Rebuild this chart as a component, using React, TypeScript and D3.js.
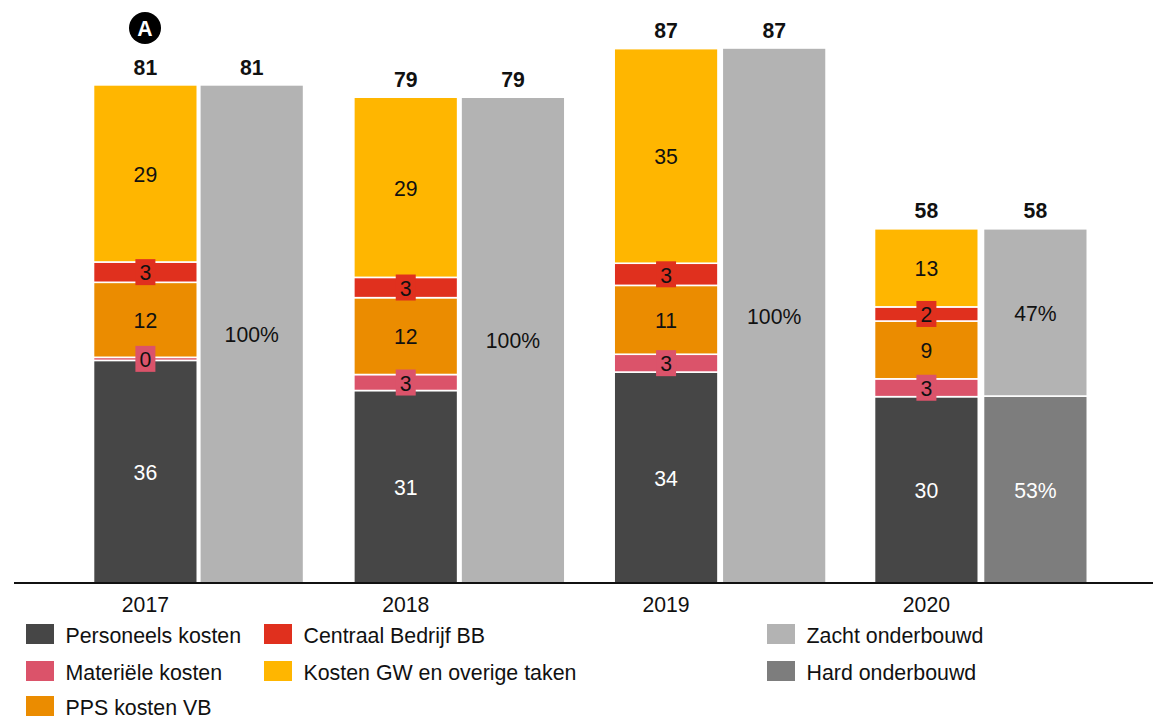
import React from "react";
import * as d3 from "d3";

const years = ["2017", "2018", "2019", "2020"];
const personeel = [36.2, 31.3, 34.3, 30.3];
const materieel = [0.5, 2.6, 2.9, 2.9];
const pps = [12.2, 12.5, 11.2, 9.4];
const centraal = [3.3, 3.3, 3.6, 2.3];
const overig = [28.8, 29.3, 34.9, 12.7];
const personeelLabels = ["36", "31", "34", "30"];
const materieelLabels = ["0", "3", "3", "3"];
const ppsLabels = ["12", "12", "11", "9"];
const centraalLabels = ["3", "3", "3", "2"];
const overigLabels = ["29", "29", "35", "13"];
const totals = ["81", "79", "87", "58"];
const hard = [0, 0, 0, 30.4];
const soft = [81, 79, 87, 27.2];
const softLabels = ["100%", "100%", "100%", "47%"];
const hardLabels = ["", "", "", "53%"];

const leftSeries = [
  { name: "Personeels kosten", values: personeel, labels: personeelLabels, color: "#464646", text: "#ffffff", boxed: false },
  { name: "Materiële kosten", values: materieel, labels: materieelLabels, color: "#DB536A", text: "#111111", boxed: true },
  { name: "PPS kosten VB", values: pps, labels: ppsLabels, color: "#EB8C00", text: "#111111", boxed: false },
  { name: "Centraal Bedrijf BB", values: centraal, labels: centraalLabels, color: "#E0301E", text: "#111111", boxed: true },
  { name: "Kosten GW en overige taken", values: overig, labels: overigLabels, color: "#FFB600", text: "#111111", boxed: false },
];
const rightSeries = [
  { name: "Hard onderbouwd", values: hard, labels: hardLabels, color: "#7D7D7D", text: "#ffffff" },
  { name: "Zacht onderbouwd", values: soft, labels: softLabels, color: "#B3B3B3", text: "#111111" },
];
const legendLayout = [
  { name: "Personeels kosten", col: 0, row: 0 },
  { name: "Materiële kosten", col: 0, row: 1 },
  { name: "PPS kosten VB", col: 0, row: 2 },
  { name: "Centraal Bedrijf BB", col: 1, row: 0 },
  { name: "Kosten GW en overige taken", col: 1, row: 1 },
  { name: "Zacht onderbouwd", col: 2, row: 0 },
  { name: "Hard onderbouwd", col: 2, row: 1 },
];
const legendColumns = [26, 264, 767];
const legendRows = [624, 661, 696];

const FONT = "'Liberation Sans', Arial, sans-serif";
const W = 1153, H = 717;
const baseY = 583;
const FS = 21.2;

export default function App() {
  const y = d3.scaleLinear().domain([0, 87]).range([baseY, 48]);
  const colorOf = (n: string) =>
    [...leftSeries, ...rightSeries].find((s) => s.name === n)!.color;
  const stackL = leftSeries.map((s) => s.values);
  const stackR = rightSeries.map((s) => s.values);
  const barW = 103.8;
  const leftX = d3.scalePoint<string>().domain(years).range([93.5, 874.5]);
  const rightX = d3.scalePoint<string>().domain(years).range([199.8, 983.5]);

  return (
    <svg width={W} height={H} style={{ position: "absolute", left: 0, top: 0, fontFamily: FONT }}>
      <rect width={W} height={H} fill="#fff" />
      {years.map((yr, i) => {
        const x1 = leftX(yr)!;
        const x2 = rightX(yr)!;
        let cumL = 0;
        let cumR = 0;
        const leftMarks = leftSeries.map((s, k) => {
          const v = stackL[k][i];
          const y0 = y(cumL), y1 = y(cumL + v);
          cumL += v;
          return { s, y0, y1 };
        });
        const rightMarks = rightSeries.map((s, k) => {
          const v = stackR[k][i];
          const y0 = y(cumR), y1 = y(cumR + v);
          cumR += v;
          return { s, y0, y1, v };
        });
        return (
          <g key={yr}>
            {leftMarks.map(({ s, y0, y1 }) => (
              <rect key={s.name} x={x1} y={y1} width={barW} height={y0 - y1} fill={s.color} stroke="#fff" strokeWidth={1.6} />
            ))}
            {rightMarks.filter((m) => m.v > 0).map(({ s, y0, y1 }) => (
              <rect key={s.name} x={x2} y={y1} width={barW} height={y0 - y1} fill={s.color} stroke="#fff" strokeWidth={1.6} />
            ))}
            {leftMarks.map(({ s, y0, y1 }) => {
              const my = (y0 + y1) / 2;
              return (
                <g key={s.name}>
                  {s.boxed && <rect x={x1 + barW / 2 - 10} y={my - 13} width={20} height={26} fill={s.color} />}
                  <text x={x1 + barW / 2} y={my + 0.6} dy="0.36em" textAnchor="middle" fontSize={FS} fill={s.text}>
                    {s.labels[i]}
                  </text>
                </g>
              );
            })}
            {rightMarks.filter((m) => m.v > 0).map(({ s, y0, y1 }) => (
              <text key={s.name} x={x2 + barW / 2} y={(y0 + y1) / 2 + 0.6} dy="0.36em" textAnchor="middle" fontSize={FS} fill={s.text}>
                {s.labels[i]}
              </text>
            ))}
            <text x={x1 + barW / 2} y={y(cumL) - 18} dy="0.36em" textAnchor="middle" fontSize={FS} fontWeight="bold" fill="#111">
              {totals[i]}
            </text>
            <text x={x2 + barW / 2} y={y(cumL) - 18} dy="0.36em" textAnchor="middle" fontSize={FS} fontWeight="bold" fill="#111">
              {totals[i]}
            </text>
            <text x={x1 + barW / 2} y={604} dy="0.36em" textAnchor="middle" fontSize={FS} fill="#111">
              {yr}
            </text>
          </g>
        );
      })}
      <line x1={14} x2={1153} y1={baseY} y2={baseY} stroke="#111" strokeWidth={2} />
      <circle cx={145} cy={28} r={16} fill="#000" />
      <text x={145} y={28} dy="0.36em" textAnchor="middle" fontSize={FS} fontWeight="bold" fill="#fff">A</text>
      {legendLayout.map((l) => {
        const lx = legendColumns[l.col];
        const ly = legendRows[l.row];
        return (
          <g key={l.name}>
            <rect x={lx} y={ly} width={28} height={20} fill={colorOf(l.name)} />
            <text x={lx + 39.5} y={ly + 11} dy="0.36em" fontSize={21.35} fill="#111">{l.name}</text>
          </g>
        );
      })}
    </svg>
  );
}
